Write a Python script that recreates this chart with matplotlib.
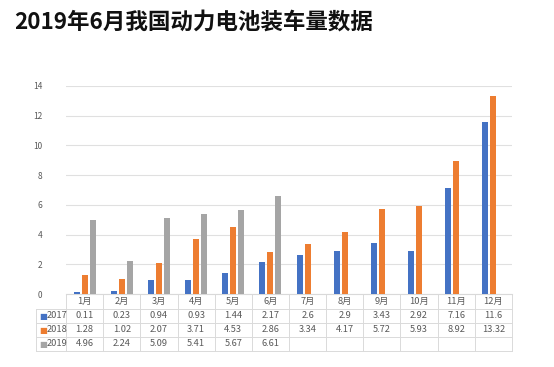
import matplotlib
matplotlib.use("Agg")
import matplotlib.pyplot as plt
import numpy as np
from matplotlib.transforms import blended_transform_factory

plt.rcParams['font.family'] = ['Noto Sans CJK SC', 'DejaVu Sans']

months = ['1月', '2月', '3月', '4月', '5月', '6月', '7月', '8月', '9月', '10月', '11月', '12月']
series_names = ['2017', '2018', '2019']
v2017 = [0.11, 0.23, 0.94, 0.93, 1.44, 2.17, 2.6, 2.9, 3.43, 2.92, 7.16, 11.6]
v2018 = [1.28, 1.02, 2.07, 3.71, 4.53, 2.86, 3.34, 4.17, 5.72, 5.93, 8.92, 13.32]
v2019 = [4.96, 2.24, 5.09, 5.41, 5.67, 6.61]
yticks = [0, 2, 4, 6, 8, 10, 12, 14]
colors = ['#4472C4', '#ED7D31', '#A5A5A5']

W, H = 554, 367
fig = plt.figure(figsize=(W / 100, H / 100), dpi=100)
ax = fig.add_axes([66 / W, 1 - 294 / H, (512 - 66) / W, (294 - 86) / H])

data = [v2017, v2018, v2019]
x = np.arange(len(months))
bw = 0.165
step = 0.215
for i, vals in enumerate(data):
    xi = x[:len(vals)] + (i - 1) * step
    ax.bar(xi, vals, width=bw, color=colors[i], zorder=3)

ax.set_xlim(-0.5, len(months) - 0.5)
ax.set_ylim(0, 14)
ax.set_yticks(yticks)
ax.set_yticklabels([str(t) for t in yticks], fontsize=6, color='#595959')
ax.tick_params(axis='y', length=0, pad=17)
ax.set_xticks([])
ax.grid(axis='y', color='#E0E0E0', linewidth=0.8, zorder=0)
for s in ['top', 'right', 'left']:
    ax.spines[s].set_visible(False)
ax.spines['bottom'].set_color('#D9D9D9')
ax.spines['bottom'].set_linewidth(0.8)

# Data table below the axes
tr = blended_transform_factory(ax.transData, ax.transAxes)
ax_h = 294 - 86
def yax(py):
    return (294 - py) / ax_h

row_edges = [294, 309, 323, 337, 351]
label_left = -0.5 - 30 / 37.17
lc = '#DADADA'
txtc = '#595959'
fs = 6.7
# horizontal lines
for k, py in enumerate(row_edges):
    x0 = -0.5 if k == 0 else label_left
    ax.plot([x0, len(months) - 0.5], [yax(py)] * 2, color=lc, lw=0.7,
            transform=tr, clip_on=False)
# vertical lines
for j in range(len(months) + 1):
    ax.plot([j - 0.5] * 2, [yax(294), yax(351)], color=lc, lw=0.7,
            transform=tr, clip_on=False)
ax.plot([label_left] * 2, [yax(309), yax(351)], color=lc, lw=0.7,
        transform=tr, clip_on=False)

# month labels
for j, m in enumerate(months):
    ax.text(j, yax((294 + 309) / 2), m, transform=tr, ha='center', va='center',
            fontsize=fs, color=txtc)
# rows
for i, (name, vals) in enumerate(zip(series_names, data)):
    yc = yax((row_edges[i + 1] + row_edges[i + 2]) / 2)
    lx = label_left + 0.08
    ax.text(lx, yc, '■', transform=tr, ha='left', va='center', fontsize=6,
            color=colors[i], family=['DejaVu Sans'])
    ax.text(lx + 0.2, yc, name, transform=tr, ha='left', va='center',
            fontsize=fs, color=txtc)
    for j, v in enumerate(vals):
        ax.text(j, yc, f'{v:g}', transform=tr, ha='center', va='center',
                fontsize=fs, color=txtc)

fig.text(14 / W, 1 - 22 / H, '2019年6月我国动力电池装车量数据', fontsize=16.2,
         fontweight='bold', ha='left', va='center', color='#111111')

fig.savefig('out.png', dpi=100, facecolor='white')
